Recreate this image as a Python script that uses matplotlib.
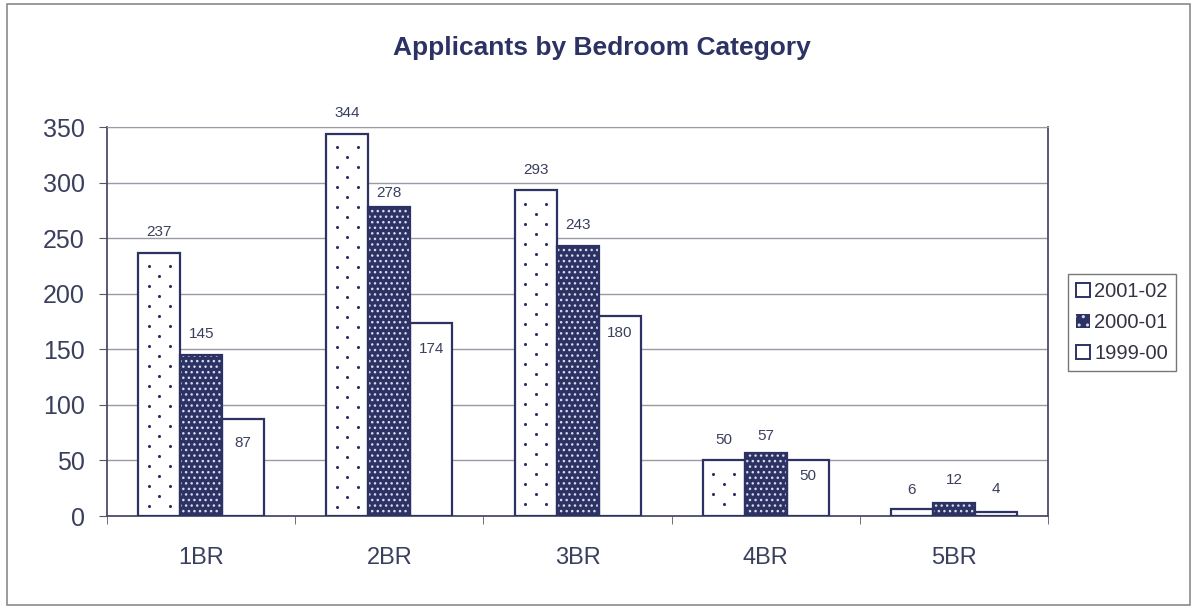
import numpy as np
import matplotlib.pyplot as plt
from matplotlib.patches import Patch, Rectangle

plt.rcParams['font.family'] = ['Liberation Sans', 'DejaVu Sans']
plt.rcParams['hatch.linewidth'] = 1.0

categories = ['1BR', '2BR', '3BR', '4BR', '5BR']
series_names = ['2001-02', '2000-01', '1999-00']
apps_2001_02 = [237, 344, 293, 50, 6]
apps_2000_01 = [145, 278, 243, 57, 12]
apps_1999_00 = [87, 174, 180, 50, 4]

# label offsets (points) relative to each bar top
label_offsets = [
    [15, 15, 15, 15, 14],
    [15, 10, 15, 12, 16],
    [-17, -19, -12, -11, 16],
]

navy = '#2c3263'
text_col = '#3a3f5e'
grid_col = '#9a9aa6'

fig = plt.figure(figsize=(11.96, 6.08), dpi=100)
fig.patches.append(Rectangle((0.006, 0.005), 0.989, 0.988, transform=fig.transFigure,
                             fill=False, edgecolor='#8a8a8a', linewidth=1.2))
ax = fig.add_axes([0.0895, 0.1513, 0.7868, 0.6398])

x = np.arange(len(categories))
w = 0.223

# 2001-02: white with sparse staggered navy dots
bars = ax.bar(x - w, apps_2001_02, w, color='white', edgecolor=navy, linewidth=1.6, zorder=3)
step = 9.0
for b in bars:
    x0, h = b.get_x(), b.get_height()
    dx, dy = [], []
    row = 0
    yy = h - 12
    while yy > 2:
        if row % 2 == 0:
            dx += [x0 + w * 0.25, x0 + w * 0.75]
            dy += [yy, yy]
        else:
            dx.append(x0 + w * 0.5)
            dy.append(yy)
        yy -= step
        row += 1
    ax.scatter(dx, dy, s=5, color=navy, linewidths=0, zorder=3.5)

# 2000-01: navy with dense light dots
ax.bar(x, apps_2000_01, w, color=navy, edgecolor='#d8dbec', hatch='...', linewidth=0, zorder=3)
ax.bar(x, apps_2000_01, w, fill=False, edgecolor=navy, linewidth=1.6, zorder=4)

# 1999-00: plain white
ax.bar(x + w, apps_1999_00, w, color='white', edgecolor=navy, linewidth=1.6, zorder=3)

for k, vals in enumerate([apps_2001_02, apps_2000_01, apps_1999_00]):
    for i, v in enumerate(vals):
        ax.annotate(str(v), (x[i] + (k - 1) * w, v), xytext=(0, label_offsets[k][i]),
                    textcoords='offset points', ha='center', va='center',
                    fontsize=11, color=text_col)

ax.set_xlim(-0.5, 4.5)
ax.set_ylim(0, 350)
ax.set_yticks(range(0, 351, 50))
ax.set_xticks(x)
ax.set_xticklabels(categories)
ax.set_xticks(np.arange(-0.5, 4.6, 1), minor=True)
ax.tick_params(axis='x', which='major', length=0, pad=22, labelsize=17, labelcolor=text_col)
ax.tick_params(axis='x', which='minor', length=6, direction='out', color='#555566')
ax.tick_params(axis='y', length=6, direction='out', labelsize=18, labelcolor=text_col, color='#555566', pad=10)
ax.yaxis.grid(True, color=grid_col, linewidth=1.0, zorder=0)
ax.set_axisbelow(True)
for side in ['left', 'bottom', 'right']:
    ax.spines[side].set_color('#4a4d68')
    ax.spines[side].set_linewidth(1.3)
ax.spines['top'].set_color(grid_col)

fig.text(0.503, 0.921, 'Applicants by Bedroom Category', ha='center', va='center',
         fontsize=19, fontweight='bold', color=navy)

handles = [
    Patch(facecolor='white', edgecolor=navy, linewidth=1.4),
    Patch(facecolor=navy, edgecolor='#d8dbec', hatch='..', linewidth=0),
    Patch(facecolor='white', edgecolor=navy, linewidth=1.4),
]
leg = fig.legend(handles, series_names, loc='center left', bbox_to_anchor=(0.893, 0.47),
                 fontsize=14.5, frameon=True, fancybox=False, edgecolor='#555555',
                 handlelength=0.7, handleheight=0.7, handletextpad=0.2,
                 borderpad=0.4, labelspacing=0.6, borderaxespad=0)
leg.get_frame().set_linewidth(1.0)
for t in leg.get_texts():
    t.set_color('#333344')

fig.savefig('out.png', dpi=100)
